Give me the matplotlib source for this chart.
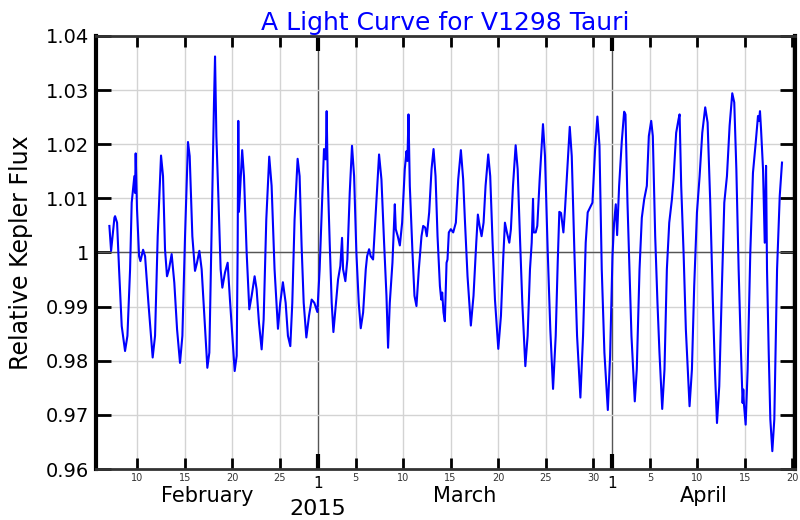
import matplotlib.pyplot as plt
import matplotlib.transforms as mtransforms
import numpy as np
from matplotlib.ticker import FixedLocator, FixedFormatter, FuncFormatter

# time in days counted from 2015-01-31 (Feb d -> d, Mar d -> 28 + d, Apr d -> 59 + d)
day = [
    7.05, 7.23, 7.58, 7.65, 7.86, 8.07, 8.35, 8.70, 8.95, 9.23, 9.40, 9.68, 9.75, 9.82,
    9.96, 10.18, 10.32, 10.60, 10.81, 11.16, 11.61, 11.86, 12.14, 12.49, 12.70, 12.91,
    13.12, 13.33, 13.61, 13.89, 14.18, 14.49, 14.74, 15.02, 15.33, 15.51, 15.79, 16.07,
    16.28, 16.53, 16.77, 17.12, 17.37, 17.58, 17.82, 18.07, 18.18, 18.32, 18.53, 18.77,
    18.95, 19.23, 19.51, 19.75, 20.00, 20.25, 20.46, 20.56, 20.63, 20.70, 21.04, 21.23,
    21.51, 21.79, 22.04, 22.35, 22.56, 22.81, 23.09, 23.30, 23.58, 23.89, 24.14,
    24.45, 24.81, 25.05, 25.33, 25.62, 25.86, 26.11, 26.32, 26.56, 26.88, 27.09, 27.30,
    27.52, 27.80, 28.08, 28.36, 28.64, 28.96, 29.20, 29.45, 29.66, 29.84, 29.94, 30.05,
    30.26, 30.47, 30.65, 30.86, 31.14, 31.38, 31.56, 31.67, 31.91, 32.12, 32.37, 32.61,
    32.83, 33.07, 33.32, 33.53, 33.78, 34.06, 34.20, 34.41, 34.58, 34.83, 35.11, 35.46,
    35.71, 35.99, 36.24, 36.41, 36.59, 36.87, 37.12, 37.22, 37.43, 37.65, 37.89, 38.17,
    38.35, 38.45, 38.56, 38.70, 38.98, 39.19, 39.40, 39.65, 39.93, 40.11, 40.32, 40.49,
    40.74, 40.99, 41.20, 41.41, 41.62, 41.87, 42.01, 42.11, 42.25, 42.39, 42.57, 42.67,
    42.81, 43.02, 43.27, 43.55, 43.80, 44.08, 44.32, 44.50, 44.78, 45.13, 45.41, 45.70,
    45.87, 46.05, 46.26, 46.47, 46.68, 46.96, 47.17, 47.42, 47.67, 48.02, 48.30, 48.55,
    48.72, 48.93, 49.18, 49.35, 49.57, 49.85, 50.06, 50.30, 50.55, 50.87, 51.11, 51.36,
    51.54, 51.68, 51.75, 51.96, 52.13, 52.38, 52.73, 52.94, 53.22, 53.50, 53.79, 54.07,
    54.28, 54.45, 54.63, 54.88, 55.05, 55.33, 55.55, 55.76, 56.04, 56.32, 56.67, 56.95,
    57.23, 57.44, 57.69, 57.94, 58.22, 58.46, 58.68, 58.92, 59.20, 59.56, 59.80, 60.05,
    60.22, 60.40, 60.54, 60.75, 61.03, 61.28, 61.42, 61.63, 61.84, 62.05, 62.40, 62.61,
    62.90, 63.14, 63.39, 63.67, 63.88, 64.13, 64.30, 64.55, 64.79, 65.00, 65.29, 65.53,
    65.78, 66.03, 66.31, 66.48, 66.76, 67.01, 67.12, 67.29, 67.54, 67.78, 68.17, 68.42,
    68.66, 68.95, 69.23, 69.51, 69.82, 70.07, 70.35, 70.63, 70.84, 71.06, 71.30, 71.58,
    71.83, 72.11, 72.39, 72.67, 72.88, 73.10, 73.34, 73.59, 73.76, 73.83, 73.90, 74.08,
    74.29, 74.57, 74.85, 75.14, 75.38, 75.49, 75.59, 75.70, 75.91, 76.09, 76.23, 76.33,
    76.51, 76.68, 76.89, 77.10, 77.39, 77.67, 77.91,
]
flux = [
    1.0049, 1.0003, 1.0064, 1.0067, 1.0055, 0.9969, 0.9864, 0.9818, 0.9846, 0.9969, 1.0092, 1.0141, 1.0110, 1.0183,
    1.0080, 0.9993, 0.9984, 1.0005, 0.9993, 0.9907, 0.9806, 0.9846, 1.0030, 1.0179, 1.0141, 1.0006,
    0.9956, 0.9969, 0.9997, 0.9944, 0.9858, 0.9796, 0.9846, 1.0030, 1.0204, 1.0178, 1.0030, 0.9966,
    0.9981, 1.0003, 0.9969, 0.9864, 0.9787, 0.9815, 1.0043, 1.0277, 1.0362, 1.0215, 1.0104, 0.9969,
    0.9935, 0.9963, 0.9981, 0.9913, 0.9846, 0.9781, 0.9809, 1.0000, 1.0243, 1.0075, 1.0189, 1.0141,
    1.0000, 0.9895, 0.9920, 0.9956, 0.9932, 0.9870, 0.9821, 0.9876, 1.0061, 1.0177, 1.0123,
    0.9969, 0.9859, 0.9907, 0.9945, 0.9907, 0.9846, 0.9827, 0.9907, 1.0061, 1.0173, 1.0141, 1.0012,
    0.9907, 0.9843, 0.9883, 0.9913, 0.9907, 0.9890, 0.9969, 1.0092, 1.0191, 1.0172, 1.0261, 1.0141,
    1.0018, 0.9907, 0.9853, 0.9895, 0.9950, 0.9975, 1.0027, 0.9969, 0.9947, 0.9987, 1.0110, 1.0197,
    1.0141, 1.0000, 0.9907, 0.9860, 0.9889, 0.9969, 0.9993, 1.0006, 0.9993, 0.9987, 1.0074, 1.0181,
    1.0135, 1.0018, 0.9920, 0.9824, 0.9907, 0.9981, 1.0089, 1.0043, 1.0030, 1.0013, 1.0055, 1.0154,
    1.0187, 1.0169, 1.0255, 1.0123, 1.0000, 0.9920, 0.9901, 0.9969, 1.0030, 1.0049, 1.0046, 1.0030,
    1.0074, 1.0154, 1.0191, 1.0141, 1.0030, 0.9938, 0.9913, 0.9926, 0.9889, 0.9873, 0.9981, 0.9987,
    1.0037, 1.0043, 1.0037, 1.0055, 1.0135, 1.0189, 1.0135, 1.0061, 0.9956, 0.9865, 0.9920, 1.0018,
    1.0070, 1.0049, 1.0030, 1.0055, 1.0123, 1.0181, 1.0141, 1.0018, 0.9913, 0.9822, 0.9883, 0.9993,
    1.0055, 1.0037, 1.0018, 1.0043, 1.0123, 1.0198, 1.0154, 1.0030, 0.9907, 0.9790, 0.9846, 0.9969,
    1.0018, 1.0099, 1.0037, 1.0037, 1.0049, 1.0135, 1.0237, 1.0178, 1.0006, 0.9858, 0.9748, 0.9846,
    0.9981, 1.0075, 1.0073, 1.0037, 1.0080, 1.0166, 1.0232, 1.0178, 1.0000, 0.9846, 0.9732, 0.9846,
    1.0018, 1.0074, 1.0083, 1.0092, 1.0191, 1.0251, 1.0197, 0.9969, 0.9815, 0.9709, 0.9809, 0.9993,
    1.0055, 1.0089, 1.0032, 1.0123, 1.0205, 1.0260, 1.0255, 1.0092, 0.9969, 0.9846, 0.9725, 0.9784,
    0.9969, 1.0064, 1.0098, 1.0123, 1.0215, 1.0243, 1.0215, 1.0030, 0.9907, 0.9815, 0.9711, 0.9784,
    0.9969, 1.0055, 1.0098, 1.0135, 1.0221, 1.0246, 1.0255, 1.0123, 1.0000, 0.9858, 0.9716, 0.9784,
    0.9938, 1.0074, 1.0141, 1.0221, 1.0268, 1.0240, 1.0092, 0.9907, 0.9784, 0.9685, 0.9753, 0.9938,
    1.0092, 1.0141, 1.0234, 1.0294, 1.0277, 1.0154, 0.9969, 0.9815, 0.9722, 0.9747, 0.9720, 0.9682,
    0.9784, 1.0000, 1.0147, 1.0203, 1.0252, 1.0243, 1.0261, 1.0228, 1.0154, 1.0018, 1.0160, 0.9969,
    0.9815, 0.9692, 0.9633, 0.9692, 0.9969, 1.0104, 1.0166,
]

month_names = ["February", "March", "April"]
month_start = [1, 29, 60, 90]
minor_days = [10, 15, 20, 25, 33, 38, 43, 48, 53, 58, 64, 69, 74, 79]
minor_labels = ["10", "15", "20", "25", "5", "10", "15", "20", "25", "30", "5", "10", "15", "20"]
major_days = [29, 60]
major_labels = ["1", "1"]
flux_ticks = [0.96, 0.97, 0.98, 0.99, 1.00, 1.01, 1.02, 1.03, 1.04]
year_label = "2015"

x_lo, x_hi = 5.64, 79.3

fig = plt.figure(figsize=(8, 5.2), dpi=100)
ax = fig.add_axes([0.12, 0.098, 0.874, 0.833])

ax.plot(day, flux, color="#0000ff", linewidth=1.5, zorder=3)

ax.set_xlim(x_lo, x_hi)
ax.set_ylim(0.96, 1.04)

# x axis: month starts as major ticks, every 5 days as minor ticks
ax.xaxis.set_major_locator(FixedLocator(major_days))
ax.xaxis.set_major_formatter(FixedFormatter(major_labels))
ax.xaxis.set_minor_locator(FixedLocator(minor_days))
ax.xaxis.set_minor_formatter(FixedFormatter(minor_labels))
ax.yaxis.set_major_locator(FixedLocator(flux_ticks))
ax.yaxis.set_major_formatter(FuncFormatter(lambda v, _: f"{round(v, 2):g}"))

ax.tick_params(axis="x", which="major", direction="in", length=11, width=3,
               top=True, labelsize=11, pad=5, color="black")
ax.tick_params(axis="x", which="minor", direction="in", length=8, width=2,
               top=True, labelsize=7, pad=3, labelcolor="#333333")
ax.tick_params(axis="y", which="major", direction="in", length=11, width=2,
               right=True, labelsize=14, pad=5)

ax.grid(which="minor", axis="x", color="#d3d3d3", linewidth=1)
ax.grid(which="major", axis="x", color="#555555", linewidth=1)
ax.grid(which="major", axis="y", color="#d3d3d3", linewidth=1)
ax.axhline(1.0, color="#555555", linewidth=1, zorder=2)
ax.set_axisbelow(True)

for side in ["left", "right"]:
    ax.spines[side].set_linewidth(3)
    ax.spines[side].set_color("black")
for side in ["top", "bottom"]:
    ax.spines[side].set_linewidth(2)
    ax.spines[side].set_color("#333333")

# month names centred on the visible part of each month
trans = mtransforms.blended_transform_factory(ax.transData, ax.transAxes)
for i, name in enumerate(month_names):
    lo = max(month_start[i], x_lo)
    hi = min(month_start[i + 1], x_hi)
    ax.text((lo + hi) / 2, -0.062, name, transform=trans, ha="center",
            va="center", fontsize=15)
ax.text(major_days[0], -0.1155, year_label, transform=trans, ha="center",
        va="bottom", fontsize=16)

ax.set_title("A Light Curve for V1298 Tauri", color="#0000ff", fontsize=18, pad=4)
ax.set_ylabel("Relative Kepler Flux", fontsize=17)
ax.yaxis.set_label_coords(-0.107, 0.5)
ax.yaxis.label.set_va("center")

fig.savefig("out.png", dpi=100)
